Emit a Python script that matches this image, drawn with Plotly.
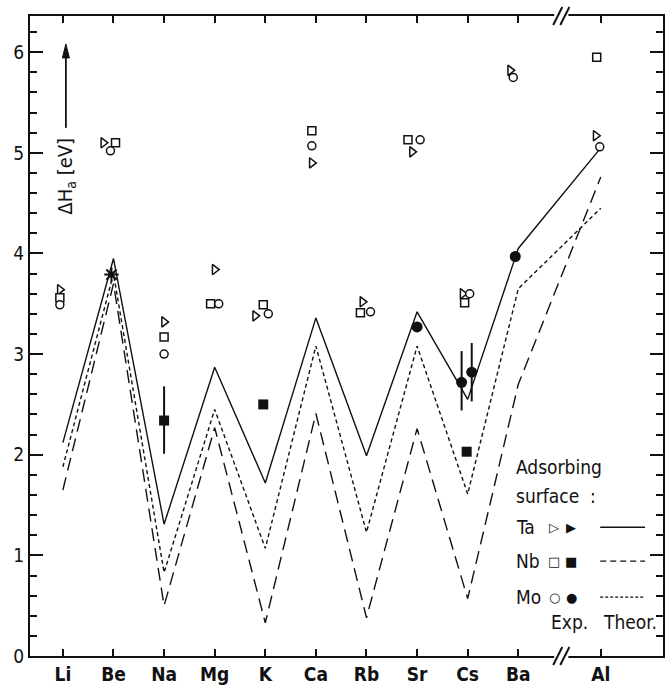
import plotly.graph_objects as go

# Adsorbate elements along the x axis (Al sits beyond an axis break)
elements = ["Li", "Be", "Na", "Mg", "K", "Ca", "Rb", "Sr", "Cs", "Ba", "Al"]
x_pos = [0, 1, 2, 3, 4, 5, 6, 7, 8, 9, 10.63]
break_x = 9.85

# Theoretical adsorption heats (eV) on each substrate
theor_ta = [2.12, 3.95, 1.31, 2.87, 1.72, 3.36, 1.99, 3.42, 2.55, 4.05, 5.05]
theor_nb = [1.65, 3.70, 0.50, 2.27, 0.33, 2.41, 0.38, 2.26, 0.57, 2.70, 4.76]
theor_mo = [1.88, 3.80, 0.83, 2.45, 1.07, 3.08, 1.23, 3.08, 1.61, 3.65, 4.45]

# Experimental values, first data set (open symbols); None = not measured
exp_ta = [3.64, 5.10, 3.32, 3.84, 3.38, 4.90, 3.52, 5.01, 3.60, 5.82, 5.17]
exp_nb = [3.56, 5.10, 3.17, 3.50, 3.49, 5.22, 3.41, 5.13, 3.51, None, 5.95]
exp_mo = [3.49, 5.02, 3.00, 3.50, 3.40, 5.07, 3.42, 5.13, 3.60, 5.75, 5.06]

# Experimental values, second data set (filled symbols)
fill_nb_el = ["Na", "K", "Cs"]
fill_nb_val = [2.34, 2.50, 2.03]
fill_nb_err_up = [0.34, 0, 0]
fill_nb_err_dn = [0.33, 0, 0]

fill_mo_el = ["Sr", "Cs", "Cs", "Ba"]
fill_mo_val = [3.27, 2.72, 2.82, 3.97]
fill_mo_err_up = [0, 0.31, 0.29, 0]
fill_mo_err_dn = [0, 0.28, 0.29, 0]

star_el = "Be"
star_val = 3.79

# Small horizontal nudges so overlapping symbols stay readable
dx_ta = [-0.06, -0.20, 0, 0, -0.20, -0.08, -0.08, -0.10, -0.10, -0.16, -0.10]
dx_nb = [-0.06, 0.04, 0, -0.08, -0.04, -0.08, -0.12, -0.18, -0.06, 0, -0.08]
dx_mo = [-0.06, -0.06, 0, 0.08, 0.06, -0.08, 0.08, 0.06, 0.04, -0.10, -0.02]
dx_fill_nb = [0, -0.04, -0.02]
dx_fill_mo = [0, -0.12, 0.08, -0.06]

pos = dict(zip(elements, x_pos))
INK = "#111111"
FONT = "DejaVu Sans Condensed, Liberation Sans Narrow, Arial Narrow, DejaVu Sans, sans-serif"

fig = go.Figure()

# theory curves
for vals, dash in [(theor_ta, "solid"), (theor_nb, "13px,7px"), (theor_mo, "4px,3px")]:
    fig.add_trace(go.Scatter(x=x_pos, y=vals, mode="lines",
                             line=dict(color=INK, width=1.4, dash=dash),
                             hoverinfo="skip"))


def open_pts(vals, dx, symbol, size):
    xs, ys = [], []
    for x, v, d in zip(x_pos, vals, dx):
        if v is not None:
            xs.append(x + d)
            ys.append(v)
    fig.add_trace(go.Scatter(x=xs, y=ys, mode="markers",
                             marker=dict(symbol=symbol, size=size, color="white",
                                         line=dict(color=INK, width=1.5))))


open_pts(exp_ta, dx_ta, "triangle-right", 9)
open_pts(exp_nb, dx_nb, "square", 8)
open_pts(exp_mo, dx_mo, "circle", 8)

fig.add_trace(go.Scatter(
    x=[pos[e] + d for e, d in zip(fill_nb_el, dx_fill_nb)], y=fill_nb_val,
    mode="markers",
    marker=dict(symbol="square", size=10, color=INK),
    error_y=dict(type="data", symmetric=False, array=fill_nb_err_up,
                 arrayminus=fill_nb_err_dn, width=0, thickness=2, color=INK)))

fig.add_trace(go.Scatter(
    x=[pos[e] + d for e, d in zip(fill_mo_el, dx_fill_mo)], y=fill_mo_val,
    mode="markers",
    marker=dict(symbol="circle", size=11, color=INK),
    error_y=dict(type="data", symmetric=False, array=fill_mo_err_up,
                 arrayminus=fill_mo_err_dn, width=0, thickness=2, color=INK)))

fig.add_trace(go.Scatter(x=[pos[star_el] - 0.04], y=[star_val], mode="markers",
                         marker=dict(symbol="asterisk-open", size=12, color=INK,
                                     line=dict(color=INK, width=2))))

# --- axis break marks (top and bottom) ---
shapes = []
for yc in (0.0, 1.0):
    shapes.append(dict(type="rect", xref="x", yref="paper",
                       x0=break_x - 0.14, x1=break_x + 0.14,
                       y0=yc - 0.004, y1=yc + 0.004,
                       fillcolor="white", line=dict(width=0), layer="above"))
    for off in (-0.07, 0.07):
        shapes.append(dict(type="line", xref="x", yref="paper",
                           x0=break_x + off - 0.09, y0=yc - 0.014,
                           x1=break_x + off + 0.09, y1=yc + 0.014,
                           line=dict(color=INK, width=2), layer="above"))


# --- legend block drawn by hand ---
def px_x(p):
    return (p - 30) / 635


def px_y(p):
    return (657 - p) / 641


ann = []
txt = dict(xref="paper", yref="paper", showarrow=False, xanchor="left",
           yanchor="middle", font=dict(family=FONT, size=19, color=INK))
ann.append(dict(text="Adsorbing", x=px_x(516), y=px_y(468), **txt))
ann.append(dict(text="surface  :", x=px_x(516), y=px_y(497), **txt))
rows = [("Ta", "▷", "▶", "solid", 528),
        ("Nb", "□", "■", "6px,4px", 562),
        ("Mo", "○", "●", "3px,2px", 598)]
sym = dict(xref="paper", yref="paper", showarrow=False, xanchor="center",
           yanchor="middle", font=dict(family="DejaVu Sans", size=13, color=INK))
for name, o_sym, f_sym, dash, py in rows:
    ann.append(dict(text=name, x=px_x(516), y=px_y(py), **txt))
    ann.append(dict(text=o_sym, x=px_x(556), y=px_y(py), **sym))
    ann.append(dict(text=f_sym, x=px_x(573), y=px_y(py), **sym))
    shapes.append(dict(type="line", xref="paper", yref="paper",
                       x0=px_x(602), x1=px_x(647), y0=px_y(py), y1=px_y(py),
                       line=dict(color=INK, width=1.4, dash=dash)))
ann.append(dict(text="Exp.", x=px_x(551), y=px_y(623), **txt))
ann.append(dict(text="Theor.", x=px_x(603), y=px_y(623), **txt))

# y-axis title placed inside the frame, with an upward arrow above it
ann.append(dict(text="ΔH<sub>a</sub> [eV]", textangle=-90, x=px_x(66), y=px_y(176),
                xref="paper", yref="paper", showarrow=False,
                xanchor="center", yanchor="middle",
                font=dict(family=FONT, size=20, color=INK)))
shapes.append(dict(type="line", xref="paper", yref="paper",
                   x0=px_x(66), x1=px_x(66), y0=px_y(128), y1=px_y(54),
                   line=dict(color=INK, width=1.8)))
shapes.append(dict(type="path", xref="paper", yref="paper",
                   path="M {a},{b} L {c},{d} L {e},{b} Z".format(
                       a=px_x(62.5), b=px_y(58), c=px_x(66), d=px_y(44), e=px_x(69.5)),
                   fillcolor=INK, line=dict(color=INK, width=1)))

fig.update_layout(
    width=671, height=691,
    margin=dict(l=30, r=6, t=16, b=34),
    paper_bgcolor="white", plot_bgcolor="white",
    showlegend=False,
    font=dict(family=FONT, color=INK),
    shapes=shapes, annotations=ann,
    xaxis=dict(range=[-0.65, 11.86], tickvals=x_pos, ticktext=elements,
               ticks="inside", ticklen=7, tickwidth=2, tickcolor=INK,
               showline=True, linewidth=2, linecolor=INK, mirror="ticks",
               showgrid=False, zeroline=False,
               tickfont=dict(family=FONT, size=19, color=INK, weight="bold")),
    yaxis=dict(range=[0, 6.36], tickvals=[0, 1, 2, 3, 4, 5, 6],
               ticks="inside", ticklen=13, tickwidth=2, tickcolor=INK,
               minor=dict(dtick=0.2, tick0=0, ticks="inside", ticklen=7,
                          tickwidth=1.6, tickcolor=INK, showgrid=False),
               showline=True, linewidth=2, linecolor=INK, mirror="ticks",
               showgrid=False, zeroline=False,
               tickfont=dict(family=FONT, size=19, color=INK)),
)

fig.write_html("out.html")
